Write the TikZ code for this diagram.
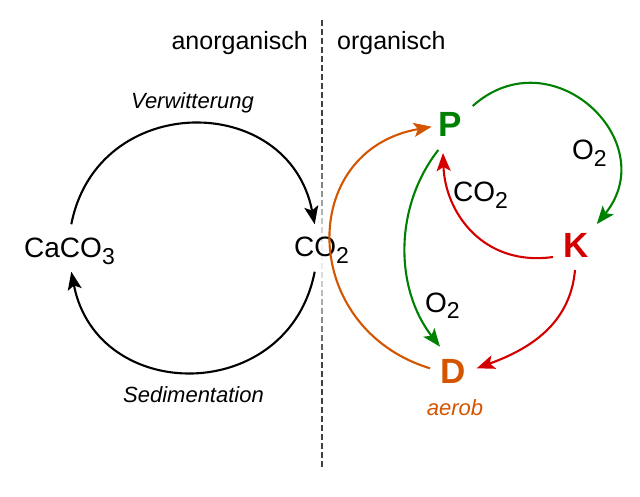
\documentclass[tikz,border=0pt]{standalone}
\usepackage{fontspec}
\setmainfont{Liberation Sans}
\usepackage{graphicx}
\usepackage{xcolor}
\usetikzlibrary{arrows.meta,calc}
\definecolor{prodgreen}{HTML}{008000}
\definecolor{konsred}{HTML}{D40000}
\definecolor{destorange}{HTML}{D45500}
\tikzset{%
	chem/.style     = {font=\fontsize{28}{28}\selectfont, inner sep=0pt},
	group/.style    = {font=\fontsize{25}{25}\selectfont, inner sep=0pt},
	proc/.style     = {font=\fontsize{22}{22}\selectfont\itshape, inner sep=0pt},
	organism/.style = {font=\fontsize{35}{35}\selectfont\bfseries, inner sep=0pt},
	flow/.style     = {line width=2.1pt, -{Stealth[length=18pt,width=14pt,inset=4pt]}},
}
\newcommand{\chsub}[1]{\raisebox{-6.5pt}{\fontsize{23}{23}\selectfont #1}}

\begin{document}
\begin{tikzpicture}[x=1pt,y=1pt]
	\useasboundingbox (0,0) rectangle (640,496);
	
	% dividing line, fading out around CO2
	\foreach \i in {0,...,49}{
		\pgfmathsetmacro{\yt}{476-9*\i}
		\pgfmathsetmacro{\fade}{min(75,max(6,0.7*abs(\yt-3-241)))}
		\draw[line width=1.8pt, black!\fade] (322,\yt) -- (322,\yt-6);
	}
	\node[group, anchor=base east] (anorg) at (308,446) {anorganisch};
	\node[group, anchor=base west] (org) at (337,446) {organisch};
	
	% anorganic cycle
	\node[chem, anchor=base] (caco) at (69.5,238) {CaCO\chsub{3}};
	\node[chem, anchor=base] (cotwo) at (321.5,239) {CO\chsub{2}};
	\node[proc, anchor=base] (verw) at (192.5,387) {Verwitterung};
	\node[proc, anchor=base] (sedi) at (193.5,94) {Sedimentation};
	
	\draw[flow] ([shift={(1.8,33.7)}]caco.base) to[out=79, in=101, distance=136pt] ([shift={(-6.8,32.7)}]cotwo.base);
	\draw[flow] ([shift={(-6.8,-14.7)}]cotwo.base) to[out=-101, in=-79, distance=136pt] ([shift={(1.8,-13.7)}]caco.base);
	
	% organic cycle
	\node[organism, anchor=base, prodgreen] (prod) at (450,359) {P};
	\node[organism, anchor=base, konsred] (kons) at (576,238) {K};
	\node[organism, anchor=base, destorange] (dest) at (453.5,113) {D};
	\node[proc, anchor=base, destorange] (aerob) at (455,81) {aerob};
	
	\node[chem, anchor=base west] (oxa) at (572,336) {O\chsub{2}};
	\node[chem, anchor=base west] (cokp) at (453,294) {CO\chsub{2}};
	\node[chem, anchor=base west] (oxb) at (425,184) {O\chsub{2}};
	
	\draw[flow, prodgreen] ([shift={(22.7,31)}]prod.base) to[out=41.8, in=51, distance=106pt] ([shift={(20.8,33.9)}]kons.base);
	\draw[flow, konsred] ([shift={(-23,1)}]kons.base) to[out=188, in=-88, out distance=70pt, in distance=60pt] ([shift={(-7,-16)}]prod.base);
	\draw[flow, prodgreen] ([shift={(-11.7,-13)}]prod.base) to[out=232, in=128, distance=73pt] ([shift={(-13.5,36.3)}]dest.base);
	\draw[flow, konsred] ([shift={(-1,-12)}]kons.base) to[out=265, in=20, distance=55pt] ([shift={(23.2,14.7)}]dest.base);
	\draw[flow, destorange] ([shift={(-23.5,14.7)}]dest.base) to[out=163, in=190, distance=137pt] ([shift={(-18.3,10.3)}]prod.base);
\end{tikzpicture}
\end{document}
